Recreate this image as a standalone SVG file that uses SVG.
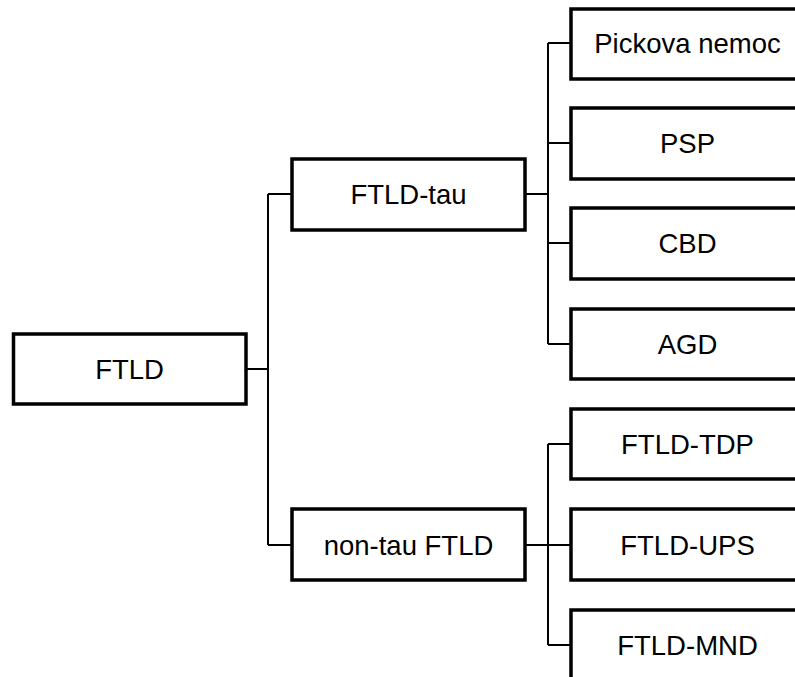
<svg xmlns="http://www.w3.org/2000/svg" width="795" height="677" viewBox="0 0 795 677">
<style>
.box{fill:#fff;stroke:#000;stroke-width:3.5}
.ln{fill:none;stroke:#000;stroke-width:2}
text{font-family:"Liberation Sans",Arial,sans-serif;font-size:27.5px;fill:#000;text-anchor:middle}
</style>
<rect width="795" height="677" fill="#fff"/>
<g id="connectors">
<path class="ln" d="M246,369 H268 M268,194 V545 M268,194 H292 M268,545 H292"/>
<path class="ln" d="M525,194 H548 M548,43 V344 M548,43 H571 M548,143 H571 M548,243 H571 M548,344 H571"/>
<path class="ln" d="M525,545 H571 M548,444 V645 M548,444 H571 M548,645 H571"/>
</g>
<g id="ftld"><rect class="box" x="13.5" y="334" width="232.5" height="70"/><text x="129.5" y="379">FTLD</text></g>
<g id="ftld-tau"><rect class="box" x="292" y="159" width="233" height="71"/><text x="408.5" y="204">FTLD-tau</text></g>
<g id="non-tau"><rect class="box" x="292" y="509" width="233" height="71"/><text x="408.5" y="555">non-tau FTLD</text></g>
<g id="pick"><rect class="box" x="571" y="9" width="233" height="70"/><text x="687.5" y="53">Pickova nemoc</text></g>
<g id="psp"><rect class="box" x="571" y="108" width="233" height="71"/><text x="687.5" y="153">PSP</text></g>
<g id="cbd"><rect class="box" x="571" y="208" width="233" height="71"/><text x="687.5" y="253">CBD</text></g>
<g id="agd"><rect class="box" x="571" y="309" width="233" height="70"/><text x="687.5" y="354">AGD</text></g>
<g id="tdp"><rect class="box" x="571" y="409" width="233" height="70"/><text x="687.5" y="454">FTLD-TDP</text></g>
<g id="ups"><rect class="box" x="571" y="509" width="233" height="71"/><text x="687.5" y="555">FTLD-UPS</text></g>
<g id="mnd"><rect class="box" x="571" y="610" width="233" height="70"/><text x="687.5" y="655">FTLD-MND</text></g>
</svg>
